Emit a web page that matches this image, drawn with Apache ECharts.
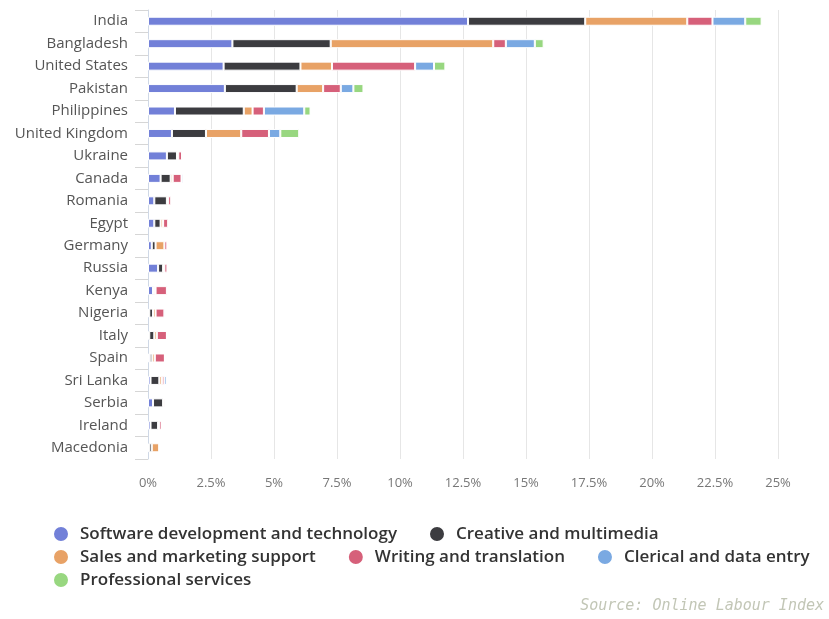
<!DOCTYPE html>
<html>
<head>
<meta charset="utf-8">
<title>Online Labour Index</title>
<script src="https://cdn.jsdelivr.net/npm/echarts@6/dist/echarts.min.js"></script>
<style>
  html, body { margin: 0; padding: 0; background: #fff; }
  #chart { width: 829px; height: 619px; }
</style>
</head>
<body>
<div id="chart"></div>
<script>
// 国家（从上到下）
const countries = ['India', 'Bangladesh', 'United States', 'Pakistan', 'Philippines', 'United Kingdom',
  'Ukraine', 'Canada', 'Romania', 'Egypt', 'Germany', 'Russia', 'Kenya', 'Nigeria', 'Italy',
  'Spain', 'Sri Lanka', 'Serbia', 'Ireland', 'Macedonia']

const xTicks = ['0%', '2.5%', '5%', '7.5%', '10%', '12.5%', '15%', '17.5%', '20%', '22.5%', '25%']

// 各职业类别占比 (%)
const software = [12.7, 3.35, 3.0, 3.05, 1.07, 0.95, 0.75, 0.5, 0.25, 0.25, 0.15, 0.4, 0.2, 0.05, 0.05, 0.07, 0.1, 0.2, 0.1, 0.05]
const creative = [4.65, 3.9, 3.05, 2.85, 2.73, 1.35, 0.4, 0.4, 0.5, 0.25, 0.15, 0.2, 0.05, 0.15, 0.2, 0.1, 0.35, 0.4, 0.3, 0.1]
const sales = [4.05, 6.45, 1.25, 1.05, 0.35, 1.4, 0.05, 0.08, 0.05, 0.1, 0.35, 0.05, 0.05, 0.1, 0.1, 0.1, 0.1, 0.05, 0.05, 0.3]
const writing = [1.0, 0.5, 3.3, 0.7, 0.45, 1.1, 0.15, 0.35, 0.12, 0.2, 0.12, 0.12, 0.45, 0.35, 0.4, 0.4, 0.1, 0.05, 0.1, 0]
const clerical = [1.3, 1.15, 0.75, 0.5, 1.6, 0.45, 0.05, 0.07, 0.03, 0.03, 0, 0.03, 0.05, 0.05, 0, 0, 0.1, 0, 0, 0]
const professional = [0.65, 0.35, 0.45, 0.4, 0.25, 0.75, 0, 0.03, 0, 0, 0, 0, 0, 0, 0, 0, 0, 0, 0, 0]

const seriesNames = ['Software development and technology', 'Creative and multimedia',
  'Sales and marketing support', 'Writing and translation', 'Clerical and data entry', 'Professional services']
const seriesData = [software, creative, sales, writing, clerical, professional]
const colors = ['#7280d8', '#3c3c40', '#e8a266', '#d6607a', '#7aa9e2', '#98d780']

// 图例分三行
const legendRows = [[0, 1], [2, 3, 4], [5]]
const legendTops = [525, 548, 571]

const font = 'Open Sans'

let myChart = echarts.init(document.getElementById('chart'))

let series = seriesNames.map((name, i) => {
  return {
    name: name,
    type: 'bar',
    stack: 'total',
    barWidth: 9,
    data: seriesData[i],
    itemStyle: {
      color: colors[i],
      borderColor: '#fff',
      borderWidth: 1,
    },
  }
})

let legends = legendRows.map((row, r) => {
  return {
    left: 52,
    top: legendTops[r],
    orient: 'horizontal',
    icon: 'circle',
    itemWidth: 16,
    itemHeight: 16,
    itemGap: 31,
    padding: 0,
    textStyle: {
      color: '#333',
      fontSize: 17,
      fontWeight: 600,
      fontFamily: font,
      padding: [0, 0, 0, 6],
    },
    data: row.map((i) => seriesNames[i]),
  }
})

myChart.setOption({
  animation: false,
  color: colors,
  title: {
    text: 'Source: Online Labour Index',
    right: 0,
    bottom: 0,
    textStyle: {
      color: '#c2c6b6',
      fontSize: 15,
      fontStyle: 'italic',
      fontWeight: 'normal',
      fontFamily: 'DejaVu Sans Mono',
    },
  },
  grid: {
    left: 148,
    right: 51,
    top: 10,
    bottom: 160,
  },
  legend: legends,
  xAxis: {
    type: 'value',
    min: 0,
    max: 25,
    interval: 2.5,
    axisLine: { show: false },
    axisTick: { show: false },
    splitLine: {
      show: true,
      lineStyle: { color: '#e6e6e6', width: 1 },
    },
    axisLabel: {
      color: '#777',
      fontSize: 13,
      fontFamily: font,
      margin: 18,
      formatter: (v) => xTicks[Math.round(v / 2.5)],
    },
  },
  yAxis: {
    type: 'category',
    inverse: true,
    data: countries,
    axisLine: {
      show: true,
      lineStyle: { color: '#cfd8e6' },
    },
    axisTick: {
      show: true,
      length: 13,
      lineStyle: { color: '#d6d6d6' },
    },
    axisLabel: {
      color: '#555',
      fontSize: 15,
      fontFamily: font,
      margin: 20,
    },
  },
  series: series,
})
</script>
</body>
</html>
